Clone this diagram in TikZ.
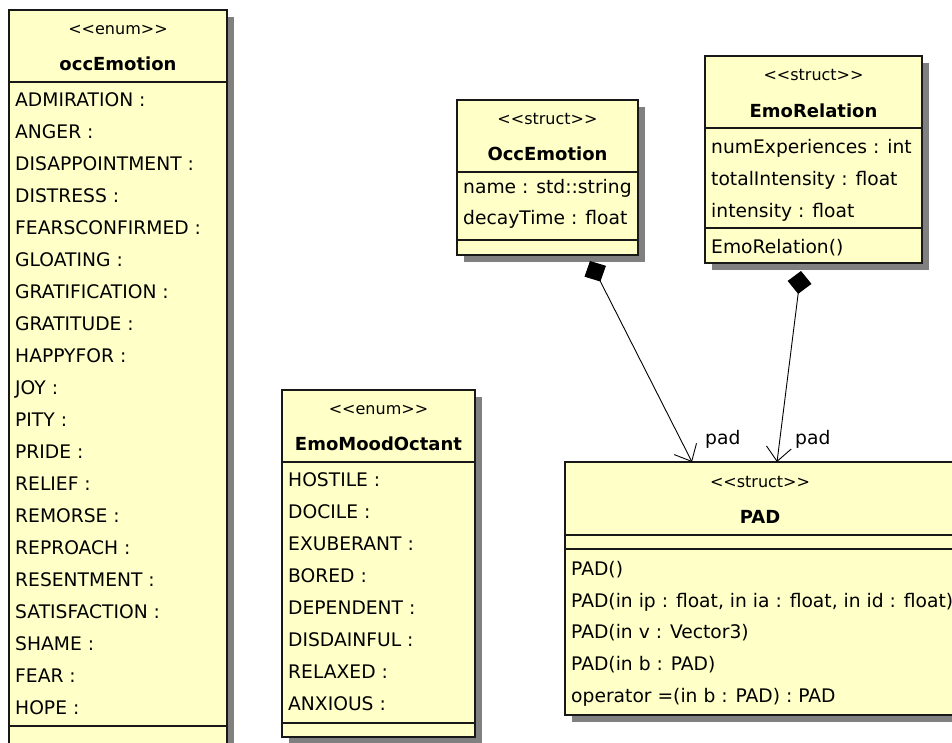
\documentclass[tikz,border=0pt]{standalone}
\usepackage{fontspec}
\setmainfont{DejaVu Sans}
\usetikzlibrary{arrows.meta,calc}
\definecolor{umlfill}{RGB}{255,255,200}
\definecolor{umlshadow}{RGB}{128,128,128}
\definecolor{umlline}{RGB}{24,24,24}
\newcommand\umlst[1]{<\kern0pt<#1>\kern0pt>}
\begin{document}
\begin{tikzpicture}[x=1pt,y=-1pt,
  classbox/.style={draw=umlline, fill=umlfill, line width=1.3pt, inner sep=0pt, outer sep=0pt, anchor=north west},
  shadowbox/.style={fill=umlshadow},
  attr/.style={anchor=base west, inner sep=0pt, font=\fontsize{18.7}{20}\selectfont},
  stereo/.style={anchor=base, inner sep=0pt, font=\fontsize{16}{18}\selectfont},
  title/.style={anchor=base, inner sep=0pt, font=\fontsize{18}{20}\selectfont\bfseries},
  sepline/.style={draw=umlline, line width=1.3pt},
  comp/.style={draw=black, line width=0.9pt, {Diamond[length=23pt,width=24pt]}-{Straight Barb[length=14pt,width=25pt,line width=0.9pt]}},
]
\useasboundingbox (0,0) rectangle (952,742);
\clip (0,0) rectangle (952,742);

% shadows
\fill[shadowbox] (16,17) rectangle (234,757);
\fill[shadowbox] (289,397) rectangle (482,744);
\fill[shadowbox] (464,107) rectangle (645,262);
\fill[shadowbox] (712,63) rectangle (929,270);
\fill[shadowbox] (572,469) rectangle (965,722);

% boxes
\node[classbox, minimum width=218pt, minimum height=740pt] (occE) at (9,10) {};
\node[classbox, minimum width=193pt, minimum height=347pt] (mood) at (282,390) {};
\node[classbox, minimum width=181pt, minimum height=155pt] (occS) at (457,100) {};
\node[classbox, minimum width=217pt, minimum height=207pt] (rel) at (705,56) {};
\node[classbox, minimum width=393pt, minimum height=253pt] (pad) at (565,462) {};

% compartment lines
\draw[sepline] (occE.west |- 0,82) -- (occE.east |- 0,82);
\draw[sepline] (occE.west |- 0,726) -- (occE.east |- 0,726);
\draw[sepline] (mood.west |- 0,462) -- (mood.east |- 0,462);
\draw[sepline] (mood.west |- 0,723) -- (mood.east |- 0,723);
\draw[sepline] (occS.west |- 0,172) -- (occS.east |- 0,172);
\draw[sepline] (occS.west |- 0,240) -- (occS.east |- 0,240);
\draw[sepline] (rel.west |- 0,128) -- (rel.east |- 0,128);
\draw[sepline] (rel.west |- 0,228) -- (rel.east |- 0,228);
\draw[sepline] (pad.west |- 0,535) -- (pad.east |- 0,535);
\draw[sepline] (pad.west |- 0,549) -- (pad.east |- 0,549);

% occEmotion enum
\node[stereo] (occEst) at (118,34) {\umlst{enum}};
\node[title] (occEti) at (118,70) {occEmotion};
\foreach \t [count=\i from 0] in {ADMIRATION :,ANGER :,DISAPPOINTMENT :,DISTRESS :,FEARSCONFIRMED :,GLOATING :,GRATIFICATION :,GRATITUDE :,HAPPYFOR :,JOY :,PITY :,PRIDE :,RELIEF :,REMORSE :,REPROACH :,RESENTMENT :,SATISFACTION :,SHAME :,FEAR :,HOPE :}
  \node[attr] (oe\i) at (15,{106+32*\i}) {\t};

% EmoMoodOctant enum
\node[stereo] (moodst) at (378.5,414) {\umlst{enum}};
\node[title] (moodti) at (378.5,450) {EmoMoodOctant};
\foreach \t [count=\i from 0] in {HOSTILE :,DOCILE :,EXUBERANT :,BORED :,DEPENDENT :,DISDAINFUL :,RELAXED :,ANXIOUS :}
  \node[attr] (mo\i) at (288,{486+32*\i}) {\t};

% OccEmotion struct
\node[stereo] (occSst) at (547.5,124) {\umlst{struct}};
\node[title] (occSti) at (547.5,160) {OccEmotion};
\node[attr] (occSa1) at (463,193) {name : std::string};
\node[attr] (occSa2) at (463,224) {decayTime : float};

% EmoRelation struct
\node[stereo] (relst) at (813.5,80) {\umlst{struct}};
\node[title] (relti) at (813.5,117) {EmoRelation};
\node[attr] (rela1) at (711,153) {numExperiences : int};
\node[attr] (rela2) at (711,185) {totalIntensity : float};
\node[attr] (rela3) at (711,217) {intensity : float};
\node[attr] (relm1) at (711,253) {EmoRelation()};

% PAD struct
\node[stereo] (padst) at (760,487) {\umlst{struct}};
\node[title] (padti) at (760,523) {PAD};
\node[attr] (padm1) at (571,575) {PAD()};
\node[attr] (padm2) at (571,607) {PAD(in ip : float, in ia : float, in id : float)};
\node[attr] (padm3) at (571,638) {PAD(in v : Vector3)};
\node[attr] (padm4) at (571,670) {PAD(in b : PAD)};
\node[attr] (padm5) at (571,702) {operator =(in b : PAD) : PAD};

% connectors
\coordinate (s1) at ($(occS.south west)+(133,6)$);
\coordinate (e1) at ($(pad.north west)+(127,0)$);
\coordinate (s2) at ($(rel.south west)+(96,8)$);
\coordinate (e2) at ($(pad.north west)+(212,0)$);
\draw[comp] (s1) -- (e1);
\draw[comp] (s2) -- (e2);
\node[attr] (lbl1) at ($(e1)+(13,-18)$) {pad};
\node[attr] (lbl2) at ($(e2)+(18,-18)$) {pad};
\end{tikzpicture}
\end{document}
